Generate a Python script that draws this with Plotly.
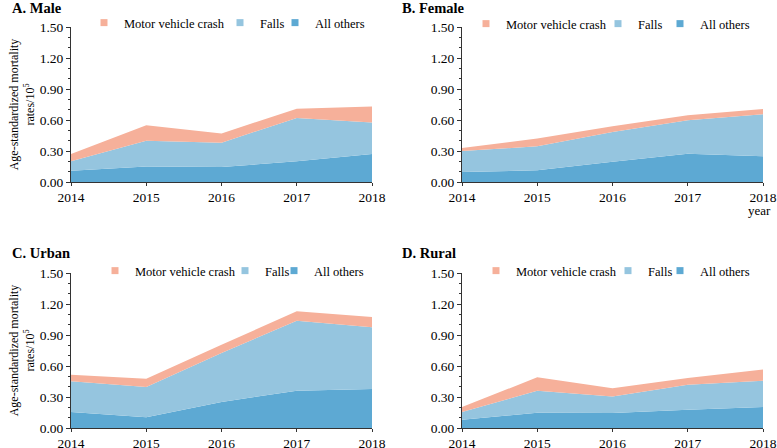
import plotly.graph_objects as go

years = [2014, 2015, 2016, 2017, 2018]
series_order = ["Motor vehicle crash", "Falls", "All others"]
colors = {"All others": "#5DA9D3", "Falls": "#95C5DF", "Motor vehicle crash": "#F6B09A"}

male_others = [0.11, 0.15, 0.145, 0.20, 0.27]
male_falls = [0.09, 0.25, 0.235, 0.42, 0.305]
male_mvc = [0.07, 0.15, 0.09, 0.09, 0.155]

female_others = [0.097, 0.113, 0.197, 0.274, 0.248]
female_falls = [0.203, 0.232, 0.287, 0.323, 0.407]
female_mvc = [0.03, 0.075, 0.056, 0.048, 0.051]

urban_others = [0.155, 0.103, 0.252, 0.361, 0.377]
urban_falls = [0.297, 0.294, 0.474, 0.678, 0.597]
urban_mvc = [0.064, 0.08, 0.08, 0.09, 0.10]

rural_others = [0.081, 0.148, 0.145, 0.177, 0.203]
rural_falls = [0.074, 0.213, 0.161, 0.242, 0.255]
rural_mvc = [0.048, 0.129, 0.078, 0.065, 0.107]

panel_titles = ["A. Male", "B. Female", "C. Urban", "D. Rural"]
y_ticks = [0.0, 0.3, 0.6, 0.9, 1.2, 1.5]
y_ticklabels = ["0.00", "0.30", "0.60", "0.90", "1.20", "1.50"]

panels = [
    {"others": male_others, "falls": male_falls, "mvc": male_mvc},
    {"others": female_others, "falls": female_falls, "mvc": female_mvc},
    {"others": urban_others, "falls": urban_falls, "mvc": urban_mvc},
    {"others": rural_others, "falls": rural_falls, "mvc": rural_mvc},
]

W, H = 777, 448
FONT = "Liberation Serif"

# pixel layout of each plot area: (x0, x1, ytop, ybottom)
boxes = [(71, 372, 27, 182), (462, 763, 27, 182), (71, 372, 273, 428), (462, 763, 273, 428)]
# legend text start x for each entry, and legend row y
legend_text_x = [(124, 260, 315), (506, 638, 700), (135, 265, 314), (516, 648, 700)]
legend_y = [23, 24, 271, 271]
title_pos = [(10, 8), (400, 8), (10, 253), (400, 253)]


def f(size):
    return dict(family=FONT, size=size, color="black")


fig = go.Figure()
layout = dict(
    width=W, height=H, margin=dict(l=0, r=0, t=0, b=0, autoexpand=False),
    paper_bgcolor="white", plot_bgcolor="white",
    font=f(13),
    annotations=[],
)

leg_count = 0
for i, p in enumerate(panels):
    n = "" if i == 0 else str(i + 1)
    xa, ya = "x" + n, "y" + n
    stack = "s" + str(i)
    for key, name in [("others", "All others"), ("falls", "Falls"), ("mvc", "Motor vehicle crash")]:
        fig.add_trace(go.Scatter(
            x=years, y=p[key], mode="none", stackgroup=stack,
            fillcolor=colors[name], name=name, showlegend=False,
            xaxis=xa, yaxis=ya, hoverinfo="x+y+name",
        ))
    for j, name in enumerate(series_order):
        leg_count += 1
        leg = "legend" if leg_count == 1 else "legend" + str(leg_count)
        fig.add_trace(go.Scatter(
            x=[None], y=[None], mode="markers", name=name,
            marker=dict(symbol="square", size=7, color=colors[name]),
            xaxis=xa, yaxis=ya, legend=leg, showlegend=True,
        ))
        layout[leg] = dict(
            x=(legend_text_x[i][j] - 40) / W, y=1 - legend_y[i] / H,
            xanchor="left", yanchor="middle",
            orientation="h", bgcolor="rgba(0,0,0,0)", font=f(12.5),
            itemwidth=30, traceorder="normal",
        )
    x0, x1, yt, yb = boxes[i]
    layout["xaxis" + n] = dict(
        domain=[x0 / W, x1 / W], anchor=ya, range=[2014, 2018],
        tickvals=years, ticktext=[str(y) for y in years],
        showline=True, linecolor="#333", linewidth=1,
        ticks="outside", ticklen=3, tickcolor="#333",
        showgrid=False, zeroline=False, tickfont=f(13.5),
    )
    layout["yaxis" + n] = dict(
        domain=[1 - yb / H, 1 - yt / H], anchor=xa, range=[0, 1.5],
        tickvals=y_ticks, ticktext=y_ticklabels,
        showline=True, linecolor="#333", linewidth=1,
        ticks="outside", ticklen=4, tickcolor="#333",
        minor=dict(dtick=0.1, ticks="outside", ticklen=2, tickcolor="#333", showgrid=False),
        showgrid=False, zeroline=False, tickfont=f(13.5),
    )
    if i in (0, 2):
        layout["yaxis" + n]["title"] = dict(
            text="Age-standardized mortality<br>rates/10<sup>5</sup>",
            font=f(12), standoff=2,
        )
    tx, ty = title_pos[i]
    layout["annotations"].append(dict(
        text="<b>" + panel_titles[i] + "</b>", x=tx / W, y=1 - ty / H,
        xref="paper", yref="paper", xanchor="left", yanchor="middle",
        showarrow=False, font=f(14.5),
    ))

layout["annotations"].append(dict(
    text="year", x=759 / W, y=1 - 211 / H, xref="paper", yref="paper",
    xanchor="center", yanchor="middle", showarrow=False, font=f(13),
))

fig.update_layout(**layout)
fig.write_html("out.html", config={"displayModeBar": False},
               post_script="document.body.style.margin='0px';")
